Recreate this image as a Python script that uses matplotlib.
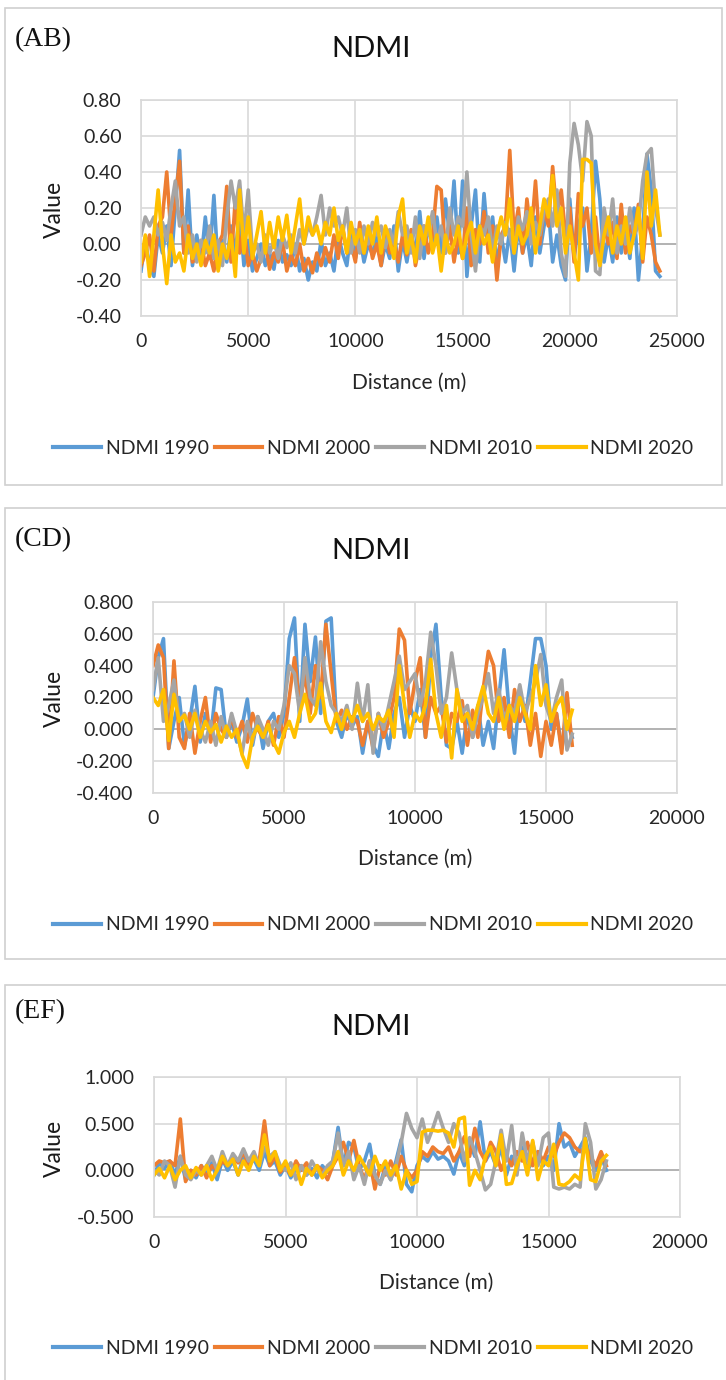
import matplotlib
matplotlib.use("Agg")
import matplotlib.pyplot as plt
from matplotlib.patches import Rectangle
from matplotlib.lines import Line2D
from matplotlib.ticker import FormatStrFormatter
import numpy as np

plt.rcParams["font.family"] = ["Lato", "DejaVu Sans"]

SERIES = ["NDMI 1990", "NDMI 2000", "NDMI 2010", "NDMI 2020"]
COLORS = ["#5B9BD5", "#ED7D31", "#A5A5A5", "#FFC000"]
GRID = "#d9d9d9"
ZERO = "#b3b3b3"
TXT = "#262626"

# ---- (AB) transect, 200 m sampling, 0..24200 m
ab_dist = np.arange(0, 24201, 200)
ab_1990 = [-0.15, 0.02, -0.12, -0.18, 0.05, -0.05, 0.10, -0.12, 0.20, 0.52,
           -0.05, 0.30, -0.12, 0.05, -0.10, 0.15, -0.08, 0.27, -0.14, 0.02,
           -0.10, 0.10, -0.05, 0.18, -0.12, 0.02, -0.15, -0.08, 0.00, -0.12,
           -0.05, -0.14, 0.02, -0.10, -0.06, -0.12, 0.00, -0.15, -0.08, -0.20,
           -0.10, -0.15, 0.02, -0.12, -0.05, -0.15, 0.05, -0.05, -0.12, 0.08,
           -0.08, 0.05, -0.10, 0.00, -0.06, 0.06, -0.12, 0.00, -0.08, 0.10,
           -0.15, 0.02, -0.10, 0.05, -0.05, 0.18, -0.08, 0.10, 0.00, 0.15,
           -0.05, 0.25, 0.05, 0.35, -0.05, 0.35, -0.18, 0.10, 0.30, -0.10,
           0.28, 0.00, 0.15, -0.12, 0.05, -0.10, 0.08, -0.15, 0.10, -0.05,
           0.05, -0.12, 0.15, -0.05, 0.10, 0.20, -0.10, 0.05, -0.12, -0.20,
           0.25, -0.08, 0.10, 0.20, -0.15, 0.05, 0.46, 0.25, -0.10, 0.05,
           -0.10, 0.15, -0.05, 0.10, -0.08, 0.20, -0.20, 0.05, 0.50, 0.30,
           -0.15, -0.18]
ab_2000 = [-0.12, -0.05, 0.05, -0.15, 0.10, 0.15, 0.40, 0.05, 0.25, 0.46,
           -0.05, 0.10, -0.10, -0.08, 0.02, -0.12, -0.05, -0.15, 0.00, 0.05,
           0.32, -0.10, 0.25, -0.05, 0.10, -0.12, -0.05, -0.15, -0.08, 0.00,
           -0.14, -0.05, -0.10, 0.02, -0.15, -0.06, -0.12, 0.00, -0.15, -0.08,
           -0.16, -0.05, -0.12, -0.02, -0.10, 0.05, -0.08, 0.10, -0.05, 0.00,
           -0.10, 0.12, -0.05, 0.05, -0.08, 0.00, -0.12, 0.08, -0.05, 0.02,
           -0.10, 0.05, -0.06, 0.08, -0.12, 0.00, 0.10, -0.05, 0.05, 0.32,
           0.30, -0.05, 0.10, -0.10, 0.05, -0.08, 0.20, -0.12, 0.08, 0.00,
           0.18, -0.05, 0.10, -0.20, 0.05, 0.10, 0.52, 0.05, 0.20, -0.05,
           0.25, 0.05, 0.35, 0.00, 0.20, 0.10, 0.43, 0.15, 0.30, 0.05,
           0.20, -0.10, 0.28, 0.10, 0.20, -0.05, 0.15, -0.10, 0.10, 0.00,
           0.12, -0.08, 0.22, -0.05, 0.10, 0.05, 0.22, -0.10, 0.15, 0.05,
           -0.10, -0.15]
ab_2010 = [0.05, 0.15, 0.10, 0.15, 0.05, 0.12, 0.02, 0.20, 0.35, 0.10,
           0.15, -0.05, 0.05, -0.10, 0.02, -0.05, 0.10, -0.08, 0.02, -0.12,
           0.15, 0.35, 0.20, 0.35, 0.05, 0.30, -0.05, 0.00, -0.10, 0.05,
           -0.05, 0.02, -0.08, 0.05, -0.02, 0.05, -0.05, 0.08, 0.00, 0.10,
           0.05, 0.15, 0.27, 0.05, 0.20, 0.10, 0.15, 0.05, 0.20, -0.05,
           0.08, -0.05, 0.10, 0.00, 0.12, 0.05, 0.10, -0.02, 0.08, 0.00,
           0.18, 0.05, 0.10, -0.05, 0.15, -0.08, 0.10, 0.05, 0.18, 0.00,
           0.10, -0.05, 0.20, 0.05, 0.15, 0.10, 0.40, 0.05, -0.15, 0.10,
           0.05, 0.15, -0.05, 0.10, 0.00, 0.12, 0.05, -0.05, 0.15, 0.08,
           0.18, 0.00, 0.12, 0.05, 0.18, 0.25, 0.10, 0.30, -0.05, -0.18,
           0.45, 0.67, 0.55, 0.35, 0.68, 0.60, -0.15, -0.17, 0.20, 0.05,
           0.25, -0.05, 0.10, 0.00, 0.20, 0.05, 0.10, 0.35, 0.50, 0.53,
           0.20, 0.05]
ab_2020 = [-0.10, 0.05, -0.18, 0.05, 0.30, 0.00, -0.22, 0.05, -0.10, -0.05,
           -0.15, 0.05, -0.08, 0.00, -0.12, 0.02, -0.05, 0.05, -0.15, 0.00,
           -0.08, 0.05, -0.18, 0.30, -0.05, 0.15, -0.08, 0.05, 0.18, -0.05,
           0.12, -0.02, 0.15, 0.02, 0.16, -0.05, 0.10, 0.25, 0.00, 0.15,
           0.05, 0.10, 0.00, 0.12, 0.05, 0.20, 0.02, 0.10, -0.05, 0.12,
           0.00, 0.08, -0.05, 0.10, 0.00, 0.15, -0.05, 0.10, 0.02, -0.08,
           0.15, 0.25, -0.05, 0.05, -0.10, 0.10, 0.00, 0.15, -0.05, 0.05,
           -0.15, 0.05, -0.05, 0.00, 0.10, -0.08, 0.05, 0.12, -0.05, 0.10,
           0.00, 0.05, -0.10, 0.05, 0.15, 0.05, 0.25, -0.05, 0.10, 0.00,
           0.05, 0.20, -0.05, 0.10, 0.25, 0.15, 0.38, 0.10, 0.20, -0.05,
           0.10, -0.05, -0.20, 0.47, 0.47, 0.45, 0.00, -0.12, 0.05, 0.15,
           -0.05, 0.10, 0.00, 0.15, -0.05, 0.05, 0.20, -0.08, 0.40, 0.10,
           0.30, 0.05]

# ---- (CD) transect, 200 m sampling, 0..16000 m
cd_dist = np.arange(0, 16001, 200)
cd_1990 = [0.20, 0.45, 0.57, -0.12, 0.05, 0.20, -0.10, 0.05, 0.27, -0.08,
           0.10, -0.05, 0.26, 0.25, -0.05, 0.05, -0.08, 0.02, 0.19, -0.10,
           0.08, -0.12, 0.05, 0.10, -0.05, 0.10, 0.57, 0.70, 0.05, 0.66,
           0.30, 0.58, 0.10, 0.68, 0.70, 0.05, -0.05, 0.10, 0.02, 0.08,
           -0.15, 0.05, -0.10, -0.17, 0.05, -0.12, 0.10, 0.20, -0.05, 0.15,
           0.05, 0.25, -0.05, 0.45, 0.66, 0.20, -0.10, -0.12, 0.05, -0.15,
           0.10, -0.05, 0.15, -0.10, 0.05, -0.12, 0.20, 0.50, 0.10, -0.15,
           0.25, 0.05, 0.30, 0.57, 0.57, 0.40, 0.00, 0.10, -0.12, 0.05,
           -0.05]
cd_2000 = [0.40, 0.53, 0.45, -0.12, 0.43, -0.05, -0.12, 0.10, -0.15, 0.05,
           0.20, -0.08, 0.10, 0.00, -0.05, 0.08, -0.05, 0.05, -0.08, 0.10,
           0.00, -0.05, 0.05, -0.10, 0.08, -0.05, 0.20, 0.45, 0.15, 0.35,
           0.10, 0.40, 0.20, 0.66, 0.35, 0.05, 0.12, 0.00, 0.08, 0.05,
           -0.10, 0.05, -0.12, 0.10, -0.05, 0.05, 0.20, 0.63, 0.56, 0.10,
           0.30, 0.45, -0.05, 0.20, 0.10, 0.15, -0.08, 0.10, 0.05, 0.18,
           -0.10, 0.12, -0.05, 0.25, 0.49, 0.40, 0.05, 0.20, -0.05, 0.25,
           0.05, 0.15, -0.10, 0.10, -0.17, 0.05, -0.10, 0.10, -0.15, 0.23,
           -0.10]
cd_2010 = [0.25, 0.45, 0.05, 0.15, 0.31, 0.05, 0.10, -0.05, 0.12, 0.00,
           -0.08, 0.05, -0.10, 0.08, -0.05, 0.10, -0.02, -0.15, 0.05, -0.08,
           0.08, 0.00, -0.10, 0.05, 0.00, 0.15, 0.40, 0.35, 0.10, 0.45,
           0.20, 0.15, 0.55, 0.30, 0.15, 0.10, 0.05, 0.15, 0.00, 0.29,
           0.05, 0.28, -0.15, 0.10, 0.00, 0.15, 0.30, 0.46, 0.25, 0.30,
           0.35, 0.15, 0.30, 0.61, 0.40, 0.10, 0.20, 0.48, 0.25, 0.10,
           0.15, -0.05, 0.10, 0.20, 0.35, 0.10, 0.25, 0.05, 0.15, 0.10,
           0.28, 0.10, 0.20, 0.30, 0.47, 0.15, 0.05, 0.20, 0.31, -0.13,
           -0.03]
cd_2020 = [0.20, 0.15, 0.25, -0.07, 0.22, 0.05, 0.09, 0.00, 0.10, -0.05,
           0.05, -0.02, 0.03, -0.08, 0.02, -0.05, 0.00, -0.16, -0.24, -0.05,
           0.02, -0.05, 0.03, -0.08, -0.15, -0.02, 0.05, -0.05, 0.10, 0.22,
           0.05, 0.10, 0.29, 0.05, -0.02, 0.10, 0.00, 0.12, 0.05, 0.15,
           0.05, 0.10, 0.00, 0.08, 0.05, 0.12, -0.05, 0.40, 0.15, -0.05,
           0.10, 0.05, 0.15, 0.44, 0.10, -0.05, 0.15, -0.18, 0.25, 0.05,
           0.10, 0.00, 0.15, 0.27, 0.10, 0.05, 0.20, 0.00, 0.15, 0.05,
           0.20, 0.10, 0.00, 0.40, 0.15, 0.28, 0.05, 0.15, 0.20, 0.00,
           0.12]

# ---- (EF) transect, 200 m sampling, 0..17200 m
ef_dist = np.arange(0, 17201, 200)
ef_1990 = [-0.05, 0.08, 0.02, 0.10, -0.05, 0.15, -0.10, 0.00, -0.08, 0.05,
           -0.05, 0.08, -0.10, 0.12, 0.00, 0.10, -0.05, 0.15, 0.05, 0.12,
           0.00, 0.20, 0.05, 0.10, -0.05, 0.05, -0.08, 0.02, 0.05, -0.05,
           0.02, -0.08, 0.05, -0.02, 0.10, 0.46, 0.05, 0.30, 0.25, 0.00,
           0.10, 0.28, -0.05, -0.15, 0.05, -0.10, 0.10, 0.33, -0.15, -0.23,
           0.05, 0.15, 0.10, 0.20, 0.12, 0.15, 0.10, -0.04, 0.20, 0.05,
           0.30, 0.15, 0.52, 0.10, 0.20, 0.05, 0.25, -0.05, 0.15, 0.05,
           0.25, 0.00, 0.10, 0.20, 0.05, 0.15, 0.00, 0.50, 0.25, 0.30,
           0.15, 0.25, 0.35, 0.10, 0.00, 0.15, 0.00]
ef_2000 = [0.05, 0.10, 0.08, 0.10, 0.05, 0.55, -0.12, 0.00, -0.05, 0.05,
           -0.08, 0.05, 0.00, 0.10, 0.05, 0.15, 0.08, 0.20, 0.05, 0.15,
           0.10, 0.53, 0.05, 0.15, -0.02, 0.05, -0.05, 0.10, 0.00, 0.08,
           -0.05, 0.05, 0.00, -0.10, 0.05, 0.15, 0.30, 0.10, 0.32, 0.05,
           -0.10, 0.10, -0.20, 0.05, -0.05, 0.10, -0.05, 0.15, 0.00, -0.08,
           0.00, 0.20, 0.15, 0.25, 0.20, 0.18, 0.25, 0.10, 0.20, 0.36,
           0.15, 0.45, 0.20, 0.10, 0.30, 0.20, 0.00, 0.15, 0.05, 0.20,
           0.10, 0.30, 0.05, 0.20, 0.10, 0.25, 0.15, 0.30, 0.40, 0.35,
           0.25, 0.20, 0.25, 0.15, 0.05, 0.20, 0.05]
ef_2010 = [0.00, -0.05, 0.10, 0.05, -0.18, 0.15, -0.05, -0.10, 0.00, -0.05,
           0.05, 0.15, 0.00, 0.20, 0.05, 0.18, 0.10, 0.23, 0.10, 0.20,
           0.05, 0.25, 0.15, 0.20, 0.05, 0.00, 0.08, -0.10, 0.05, -0.05,
           0.10, 0.00, -0.05, 0.05, 0.10, 0.40, 0.05, 0.20, -0.10, 0.05,
           -0.15, 0.10, -0.05, -0.15, 0.00, -0.10, 0.05, 0.30, 0.61, 0.45,
           0.35, 0.55, 0.30, 0.45, 0.62, 0.45, 0.30, 0.50, 0.40, 0.10,
           0.35, 0.20, 0.00, -0.21, -0.15, 0.10, 0.43, 0.10, 0.48, -0.05,
           0.40, 0.10, 0.30, 0.05, 0.35, 0.40, -0.18, -0.20, -0.18, -0.20,
           -0.15, -0.18, 0.50, 0.30, -0.20, -0.10, 0.10]
ef_2020 = [-0.05, 0.02, -0.08, 0.05, -0.10, 0.00, 0.05, -0.08, 0.03, -0.05,
           0.05, -0.10, 0.00, 0.15, 0.05, 0.12, -0.05, 0.10, 0.00, 0.15,
           0.05, 0.38, 0.10, 0.20, 0.00, 0.10, -0.05, 0.05, -0.15, 0.02,
           -0.05, 0.05, -0.08, 0.00, 0.05, 0.20, -0.05, 0.10, 0.00, 0.15,
           0.05, -0.05, 0.15, 0.00, 0.10, -0.05, 0.05, -0.20, 0.00, -0.15,
           -0.12, 0.41, 0.43, 0.43, 0.42, 0.43, 0.40, 0.25, 0.55, 0.57,
           -0.16, 0.00, -0.10, 0.15, 0.25, 0.05, 0.38, -0.15, -0.14, 0.05,
           0.20, -0.05, 0.32, -0.10, 0.10, 0.05, 0.28, -0.15, -0.16, -0.12,
           -0.05, -0.10, 0.34, -0.10, -0.12, 0.10, 0.16]

W, H = 726, 1380


def px_rect(left, top, right, bottom):
    """pixel box (from top-left) -> figure fraction [l, b, w, h]"""
    return [left / W, 1 - bottom / H, (right - left) / W, (bottom - top) / H]


def panel(fig, box, axbox, tag, tag_y, title_y, xlab_xy, ylab_xy, leg_y,
          dist, series, xmax, ylim, ystep, yfmt):
    fig.patches.append(Rectangle((box[0] / W, 1 - box[3] / H), (box[2] - box[0]) / W,
                                 (box[3] - box[1]) / H, transform=fig.transFigure,
                                 fill=False, ec="#d0d0d0", lw=1.2))
    ax = fig.add_axes(px_rect(*axbox))
    for vals, c in zip(series, COLORS):
        ax.plot(dist, vals, color=c, lw=2.6, solid_joinstyle="round", zorder=2)
    ax.set_xlim(0, xmax)
    ax.set_ylim(*ylim)
    ax.set_xticks(np.arange(0, xmax + 1, 5000))
    ax.set_yticks(np.arange(ylim[0], ylim[1] + 1e-9, ystep))
    ax.yaxis.set_major_formatter(FormatStrFormatter(yfmt))
    ax.grid(True, color=GRID, lw=1.2)
    ax.set_axisbelow(True)
    ax.axhline(0, color=ZERO, lw=1.4, zorder=1.5)
    for s in ax.spines.values():
        s.set_color(GRID)
        s.set_linewidth(1.2)
    ax.tick_params(axis="y", length=0, labelsize=14, colors=TXT, pad=14)
    ax.tick_params(axis="x", length=0, labelsize=14, colors=TXT, pad=12)

    fig.text(15 / W, 1 - tag_y / H, tag, family="Liberation Serif", fontsize=20,
             color="#111111", ha="left", va="center")
    fig.text(371 / W, 1 - title_y / H, "NDMI", fontsize=21, color="#111111",
             ha="center", va="center")
    fig.text(xlab_xy[0] / W, 1 - xlab_xy[1] / H, "Distance (m)", fontsize=15,
             color=TXT, ha="center", va="center")
    fig.text(ylab_xy[0] / W, 1 - ylab_xy[1] / H, "Value", fontsize=16.5,
             color="#1a1a1a", ha="center", va="center", rotation=90)

    handles = [Line2D([], [], color=c, lw=3.0) for c in COLORS]
    fig.legend(handles, SERIES, loc="center", bbox_to_anchor=(373.5 / W, 1 - leg_y / H),
               ncol=4, frameon=False, fontsize=14, handlelength=2.45,
               handletextpad=0.25, columnspacing=0.3, labelcolor=TXT)
    return ax


fig = plt.figure(figsize=(W / 100, H / 100), dpi=100)

panel(fig, (5, 8, 722, 485), (141, 100, 677, 316), "(AB)", 40, 49, (409, 383),
      (54, 209), 448, ab_dist, [ab_1990, ab_2000, ab_2010, ab_2020],
      25000, (-0.4, 0.8), 0.2, "%.2f")
panel(fig, (5, 508, 727, 959), (153, 602, 677, 793), "(CD)", 540, 551, (415, 859),
      (54, 698), 925, cd_dist, [cd_1990, cd_2000, cd_2010, cd_2020],
      20000, (-0.4, 0.8), 0.2, "%.3f")
panel(fig, (5, 985, 727, 1390), (154, 1077, 680, 1217), "(EF)", 1012, 1027, (436, 1283),
      (54, 1148), 1348, ef_dist, [ef_1990, ef_2000, ef_2010, ef_2020],
      20000, (-0.5, 1.0), 0.5, "%.3f")

fig.savefig("out.png", dpi=100)
